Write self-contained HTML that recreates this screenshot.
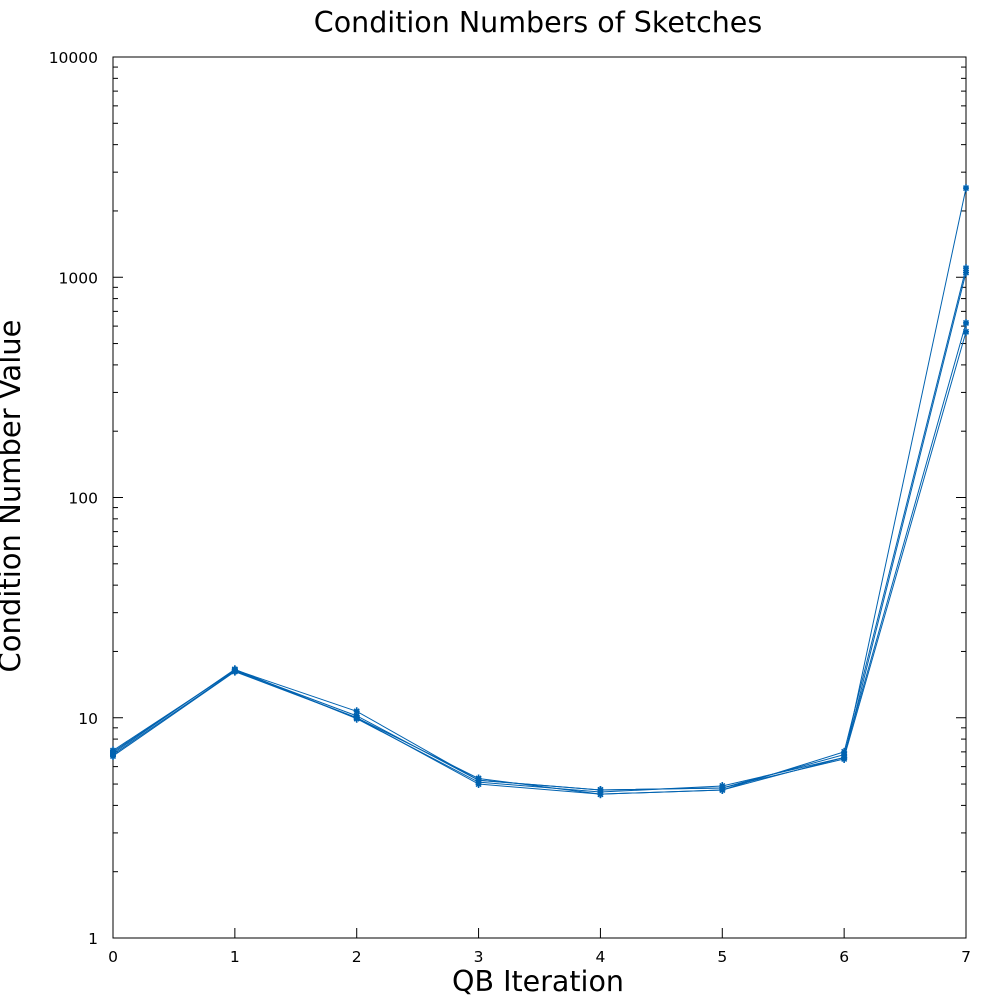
<!DOCTYPE html>
<html><head><meta charset="utf-8"><style>body{margin:0;background:#fff}svg{display:block}</style></head>
<body>
<svg id="chart" width="1000" height="1000" xmlns="http://www.w3.org/2000/svg" font-family="DejaVu Sans, Liberation Sans, sans-serif">
<text x="538" y="32" font-size="28.5" text-anchor="middle">Condition Numbers of Sketches</text>
<text x="538" y="991" font-size="28.5" text-anchor="middle">QB Iteration</text>
<text transform="translate(20,496) rotate(-90)" font-size="29" text-anchor="middle">Condition Number Value</text>
<g id="axes"></g>
<g id="series"></g>
</svg>
<script>
const iterations=[0,1,2,3,4,5,6,7];
const seriesA=[7.0,16.5,10.7,5.2,4.7,4.8,6.5,2540];
const seriesB=[6.8,16.3,10.0,5.3,4.5,4.7,7.0,1100];
const seriesC=[6.9,16.6,9.9,5.1,4.6,4.9,6.6,1050];
const seriesD=[7.1,16.4,10.2,5.2,4.7,4.8,6.8,620];
const seriesE=[6.7,16.2,10.0,5.0,4.5,4.7,6.6,565];
const yTickValues=[1,10,100,1000,10000];
const yTickLabels=["1","10","100","1000","10000"];
const xTickLabels=["0","1","2","3","4","5","6","7"];

const L=113,R=966,T=57,B=938;
const NS="http://www.w3.org/2000/svg";
const xS=v=>L+(v-0)/(7-0)*(R-L);
const yS=v=>B-(Math.log10(v)-0)/4*(B-T);
function mk(t,a,p){const e=document.createElementNS(NS,t);for(const k in a)e.setAttribute(k,a[k]);p.appendChild(e);return e;}
const ax=document.getElementById('axes');
const frame=mk('rect',{x:L,y:T,width:R-L,height:B-T,fill:'none',stroke:'#000','stroke-width':1},ax);


yTickValues.forEach((v,i)=>{
  const y=yS(v);
  mk('line',{x1:L,x2:L+10,y1:y,y2:y,stroke:'#000'},ax);
  mk('line',{x1:R,x2:R-10,y1:y,y2:y,stroke:'#000'},ax);
  const t=mk('text',{x:L-15,y:y+6,'font-size':15.5,'text-anchor':'end'},ax);
  t.textContent=yTickLabels[i];
  
  
  if(i<yTickValues.length-1){
    for(let m=2;m<=9;m++){const yy=yS(v*m);
      mk('line',{x1:L,x2:L+5,y1:yy,y2:yy,stroke:'#000'},ax);
      mk('line',{x1:R,x2:R-5,y1:yy,y2:yy,stroke:'#000'},ax);}
  }
});
iterations.forEach((v,i)=>{
  const x=xS(v);
  mk('line',{x1:x,x2:x,y1:B,y2:B-10,stroke:'#000'},ax);
  const t=mk('text',{x:x,y:B+24,'font-size':15.5,'text-anchor':'middle'},ax);
  t.textContent=xTickLabels[i];
  
  
});
const sg=document.getElementById('series');
[seriesA,seriesB,seriesC,seriesD,seriesE].forEach((s,k)=>{
  const pts=s.map((v,i)=>xS(iterations[i])+','+yS(v)).join(' ');
  const pl=mk('polyline',{points:pts,fill:'none',stroke:'#0062b0','stroke-width':1},sg);
  
  
  s.forEach((v,i)=>{
    const x=xS(iterations[i]),y=yS(v);
    const g=mk('path',{d:`M${x-3},${y}h6M${x},${y-4}v8M${x-2.5},${y-2.5}l5,5M${x+2.5},${y-2.5}l-5,5`,stroke:'#0062b0','stroke-width':1.6},sg);
    
    
  });
});
</script>
</body></html>
